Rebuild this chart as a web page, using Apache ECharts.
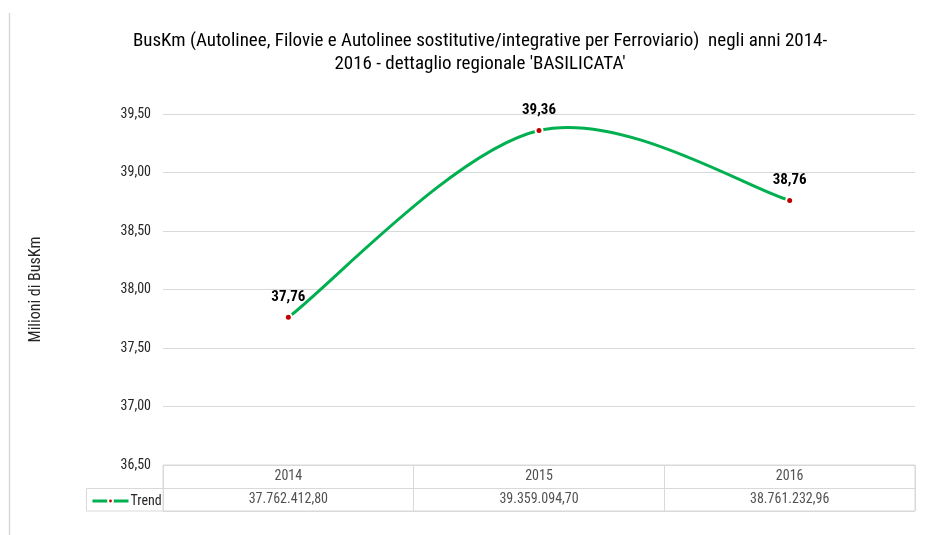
<!DOCTYPE html>
<html>
<head>
<meta charset="utf-8">
<script src="https://cdn.jsdelivr.net/npm/echarts@6/dist/echarts.min.js"></script>
<style>
html,body{margin:0;padding:0;background:#fff;}
#chart{width:931px;height:535px;}
</style>
</head>
<body>
<div id="chart"></div>
<script>
// ---- data ----
var years = ['2014', '2015', '2016'];
var busKm = [37762412.80, 39359094.70, 38761232.96];
var seriesName = 'Trend';
var titleText = "BusKm (Autolinee, Filovie e Autolinee sostitutive/integrative per Ferroviario)  negli anni 2014-\n2016 - dettaglio regionale 'BASILICATA'";
var yAxisName = 'Milioni di BusKm';
var yMin = 36.5, yMax = 39.5, yStep = 0.5;
var tableRows = ['anno', 'valore'];

var FONT = "'Roboto Condensed','Liberation Sans Narrow','DejaVu Sans Condensed','Arial Narrow',sans-serif";
var GREEN = '#00B050', RED = '#C00000', GRID = '#D9D9D9', TXT = '#262626';

function fmtIt(v, dec) {
  var parts = v.toFixed(dec).split('.');
  parts[0] = parts[0].replace(/\B(?=(\d{3})+(?!\d))/g, '.');
  return parts.join(',');
}

var millions = busKm.map(function (v) { return v / 1e6; });

// Excel-like smoothed curve: cubic Bezier segments with Catmull-Rom tangents (1/6)
function renderCurve(params, api) {
  var i = params.dataIndex;
  var n = millions.length;
  if (i >= n - 1) return null;
  function pt(k) {
    k = Math.max(0, Math.min(n - 1, k));
    return api.coord([k, millions[k]]);
  }
  var p0 = pt(i - 1), p1 = pt(i), p2 = pt(i + 1), p3 = pt(i + 2);
  return {
    type: 'bezierCurve',
    shape: {
      x1: p1[0], y1: p1[1], x2: p2[0], y2: p2[1],
      cpx1: p1[0] + (p2[0] - p0[0]) / 6, cpy1: p1[1] + (p2[1] - p0[1]) / 6,
      cpx2: p2[0] - (p3[0] - p1[0]) / 6, cpy2: p2[1] - (p3[1] - p1[1]) / 6
    },
    style: { stroke: GREEN, lineWidth: 3, fill: null, lineCap: 'round' },
    silent: true
  };
}

var chart = echarts.init(document.getElementById('chart'));
chart.setOption({
  backgroundColor: '#ffffff',
  animation: false,
  textStyle: { fontFamily: FONT },
  title: {
    text: titleText,
    left: 475,
    top: 25,
    textAlign: 'center',
    textStyle: { fontFamily: FONT, fontSize: 19, fontWeight: 'normal', color: '#000000', lineHeight: 23 }
  },
  legend: {
    left: 86, top: 489,
    itemWidth: 36, itemHeight: 6, itemGap: 2,
    data: [{ name: seriesName, lineStyle: { color: GREEN, width: 3, opacity: 1 } }],
    textStyle: { fontFamily: FONT, fontSize: 14, color: TXT, padding: [0, 0, 0, -3] }
  },
  grid: [
    { left: 163, right: 16, top: 114, bottom: 70, show: false },
    { left: 163, right: 16, top: 465, height: 46, show: true, borderColor: GRID, borderWidth: 1, backgroundColor: 'transparent' }
  ],
  xAxis: [
    {
      gridIndex: 0, type: 'category', data: years, boundaryGap: true,
      axisLine: { show: false }, axisTick: { show: false }, axisLabel: { show: false }, splitLine: { show: false }
    },
    {
      gridIndex: 1, type: 'category', data: years, boundaryGap: true,
      axisLine: { show: false }, axisTick: { show: false }, axisLabel: { show: false },
      splitLine: { show: true, interval: 0, lineStyle: { color: GRID, width: 1 } }
    }
  ],
  yAxis: [
    {
      gridIndex: 0, type: 'value', min: yMin, max: yMax, interval: yStep,
      name: yAxisName, nameLocation: 'middle', nameGap: 119, nameRotate: 90,
      nameTextStyle: { fontFamily: FONT, fontSize: 16, color: TXT },
      axisLine: { show: false }, axisTick: { show: false },
      axisLabel: { fontFamily: FONT, fontSize: 14, color: TXT, margin: 12,
        formatter: function (v) { return fmtIt(v, 2); } },
      splitLine: { show: true, lineStyle: { color: GRID, width: 1 } }
    },
    {
      gridIndex: 1, type: 'category', data: tableRows, inverse: true, boundaryGap: true,
      axisLine: { show: false }, axisTick: { show: false }, axisLabel: { show: false },
      splitLine: { show: true, interval: 0, lineStyle: { color: GRID, width: 1 } }
    }
  ],
  series: [
    {
      name: 'curve', type: 'custom', xAxisIndex: 0, yAxisIndex: 0,
      renderItem: renderCurve,
      data: millions.map(function (v, i) { return [i, v]; }),
      z: 2, silent: true
    },
    {
      name: seriesName, type: 'line', xAxisIndex: 0, yAxisIndex: 0,
      data: millions, smooth: false,
      symbol: 'circle', symbolSize: 7, showAllSymbol: true,
      lineStyle: { color: GREEN, width: 0, opacity: 0 },
      itemStyle: { color: RED, borderColor: '#ffffff', borderWidth: 2 },
      label: {
        show: true, position: 'top', distance: 8,
        fontFamily: FONT, fontSize: 15, fontWeight: 'bold', color: '#000000',
        formatter: function (p) { return fmtIt(p.value, 2); }
      },
      z: 3
    },
    {
      name: 'tableYears', type: 'scatter', xAxisIndex: 1, yAxisIndex: 1,
      symbolSize: 0, silent: true,
      data: years.map(function (y) { return [y, tableRows[0]]; }),
      label: { show: true, position: 'inside', fontFamily: FONT, fontSize: 14, color: TXT,
        formatter: function (p) { return p.value[0]; } }
    },
    {
      name: 'tableValues', type: 'scatter', xAxisIndex: 1, yAxisIndex: 1,
      symbolSize: 0, silent: true,
      data: years.map(function (y, i) { return [y, tableRows[1], busKm[i]]; }),
      label: { show: true, position: 'inside', fontFamily: FONT, fontSize: 14, color: TXT,
        formatter: function (p) { return fmtIt(p.value[2], 2); } }
    }
  ],
  graphic: [
    { type: 'rect', shape: { x: 86.5, y: 488.5, width: 77, height: 22.5 },
      style: { fill: 'none', stroke: GRID, lineWidth: 1 }, silent: true },
    { type: 'line', shape: { x1: 9.5, y1: 13, x2: 9.5, y2: 535 },
      style: { stroke: GRID, lineWidth: 1.5 }, silent: true }
  ]
});
</script>
</body>
</html>
